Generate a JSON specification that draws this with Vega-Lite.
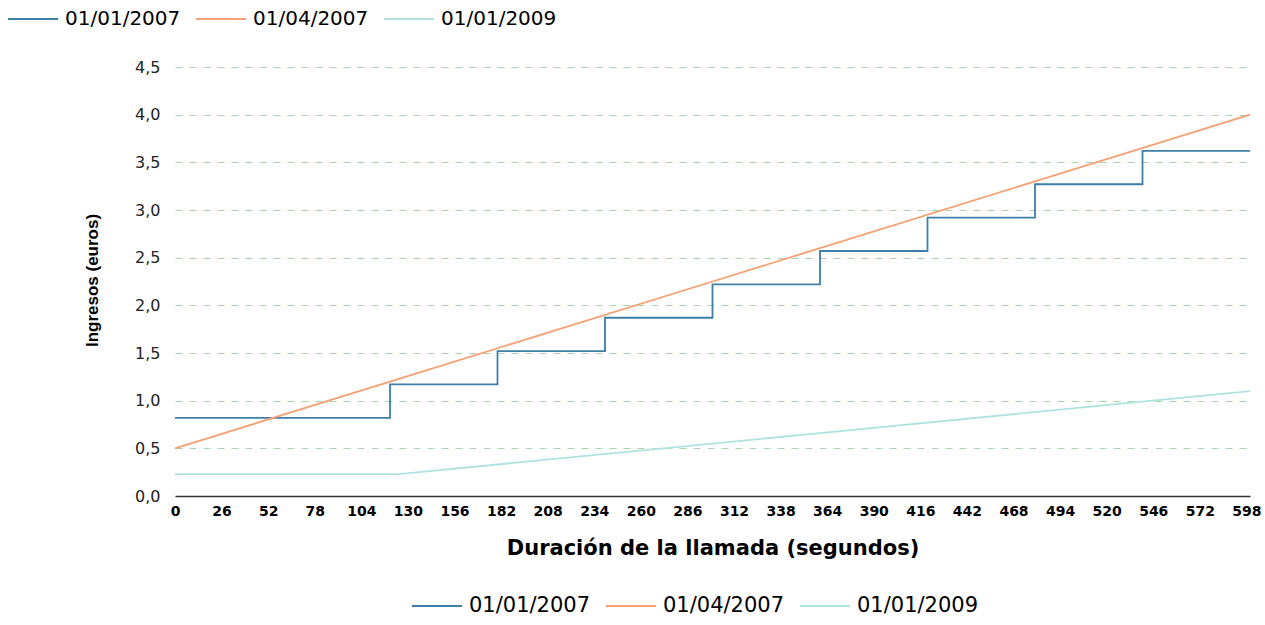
{
  "$schema": "https://vega.github.io/schema/vega-lite/v6.json",
  "width": 1075,
  "height": 429,
  "autosize": {"type": "none"},
  "padding": {"left": 175, "top": 67, "right": 15, "bottom": 129},
  "background": "white",
  "config": {
    "view": {"stroke": null},
    "font": "DejaVu Sans"
  },
  "data": {
    "values": [
      {"serie": "01/01/2007", "t": 0, "v": 0.82},
      {"serie": "01/01/2007", "t": 120, "v": 1.17},
      {"serie": "01/01/2007", "t": 180, "v": 1.52},
      {"serie": "01/01/2007", "t": 240, "v": 1.87},
      {"serie": "01/01/2007", "t": 300, "v": 2.22},
      {"serie": "01/01/2007", "t": 360, "v": 2.57},
      {"serie": "01/01/2007", "t": 420, "v": 2.92},
      {"serie": "01/01/2007", "t": 480, "v": 3.27},
      {"serie": "01/01/2007", "t": 540, "v": 3.62},
      {"serie": "01/01/2007", "t": 600, "v": 3.62},
      {"serie": "01/04/2007", "t": 0, "v": 0.5},
      {"serie": "01/04/2007", "t": 120, "v": 1.2},
      {"serie": "01/04/2007", "t": 300, "v": 2.25},
      {"serie": "01/04/2007", "t": 480, "v": 3.3},
      {"serie": "01/04/2007", "t": 600, "v": 4.0},
      {"serie": "01/01/2009", "t": 0, "v": 0.23},
      {"serie": "01/01/2009", "t": 125, "v": 0.23},
      {"serie": "01/01/2009", "t": 360, "v": 0.66},
      {"serie": "01/01/2009", "t": 600, "v": 1.1}
    ]
  },
  "encoding": {
    "x": {
      "field": "t",
      "type": "quantitative",
      "scale": {"domain": [0, 600], "nice": false},
      "axis": {
        "title": "Duración de la llamada (segundos)",
        "titleFont": "DejaVu Sans",
        "titleFontSize": 21,
        "titleFontWeight": "bold",
        "titleColor": "#000",
        "titleY": 52,
        "titleBaseline": "middle",
        "values": [0, 26, 52, 78, 104, 130, 156, 182, 208, 234, 260, 286, 312, 338, 364, 390, 416, 442, 468, 494, 520, 546, 572, 598],
        "grid": false,
        "ticks": false,
        "domainColor": "#333",
        "domainWidth": 1.5,
        "labelFont": "DejaVu Sans",
        "labelFontSize": 14,
        "labelFontWeight": "bold",
        "labelColor": "#000",
        "labelPadding": 8,
        "labelFlush": false
      }
    },
    "y": {
      "field": "v",
      "type": "quantitative",
      "scale": {"domain": [0, 4.5], "nice": false},
      "axis": {
        "title": "Ingresos (euros)",
        "titleFont": "Liberation Sans",
        "titleFontSize": 17,
        "titleFontWeight": "bold",
        "titleColor": "#000",
        "titleX": -83,
        "titleY": 213,
        "titleAngle": -90,
        "titleAlign": "center",
        "titleBaseline": "middle",
        "values": [0, 0.5, 1, 1.5, 2, 2.5, 3, 3.5, 4, 4.5],
        "labelExpr": "replace(format(datum.value, '.1f'), '.', ',')",
        "labelFont": "DejaVu Sans",
        "labelFontSize": 16,
        "labelColor": "#222",
        "labelPadding": 15,
        "ticks": false,
        "domain": false,
        "gridColor": "#a9d6a9",
        "gridDash": [7, 7],
        "gridWidth": 1
      }
    }
  },
  "layer": [
    {
      "mark": {"type": "line", "interpolate": "step-after", "strokeWidth": 1.8},
      "transform": [{"filter": "datum.serie == '01/01/2007'"}],
      "encoding": {
        "stroke": {
          "field": "serie",
          "type": "nominal",
          "scale": {"domain": ["01/01/2007", "01/04/2007", "01/01/2009"], "range": ["#3c7fa7", "#f7a072", "#aee3df"]},
          "legend": null
        }
      }
    },
    {
      "mark": {"type": "line", "strokeWidth": 1.8},
      "transform": [{"filter": "datum.serie != '01/01/2007'"}],
      "encoding": {
        "stroke": {
          "field": "serie",
          "type": "nominal",
          "scale": {"domain": ["01/01/2007", "01/04/2007", "01/01/2009"], "range": ["#3c7fa7", "#f7a072", "#aee3df"]},
          "legend": {
            "orient": "none",
            "legendX": -168,
            "legendY": -74,
            "direction": "horizontal",
            "title": null,
            "symbolType": "stroke",
            "symbolSize": 2500,
            "symbolStrokeWidth": 2,
            "labelFont": "DejaVu Sans",
            "labelFontSize": 20,
            "labelColor": "#000",
            "labelOffset": 6,
            "columnPadding": 11,
            "padding": 0
          }
        }
      }
    },
    {
      "mark": {"type": "line", "opacity": 0},
      "encoding": {
        "color": {
          "field": "serie",
          "type": "nominal",
          "scale": {"domain": ["01/01/2007", "01/04/2007", "01/01/2009"], "range": ["#3c7fa7", "#f7a072", "#aee3df"]},
          "legend": {
            "orient": "none",
            "legendX": 236,
            "legendY": 513,
            "direction": "horizontal",
            "title": null,
            "symbolType": "stroke",
            "symbolSize": 2500,
            "symbolStrokeWidth": 2,
            "symbolOpacity": 1,
            "labelFont": "DejaVu Sans",
            "labelFontSize": 21,
            "labelColor": "#000",
            "labelOffset": 6,
            "columnPadding": 11,
            "padding": 0
          }
        }
      }
    }
  ],
  "resolve": {"legend": {"color": "independent", "stroke": "independent"}}
}
